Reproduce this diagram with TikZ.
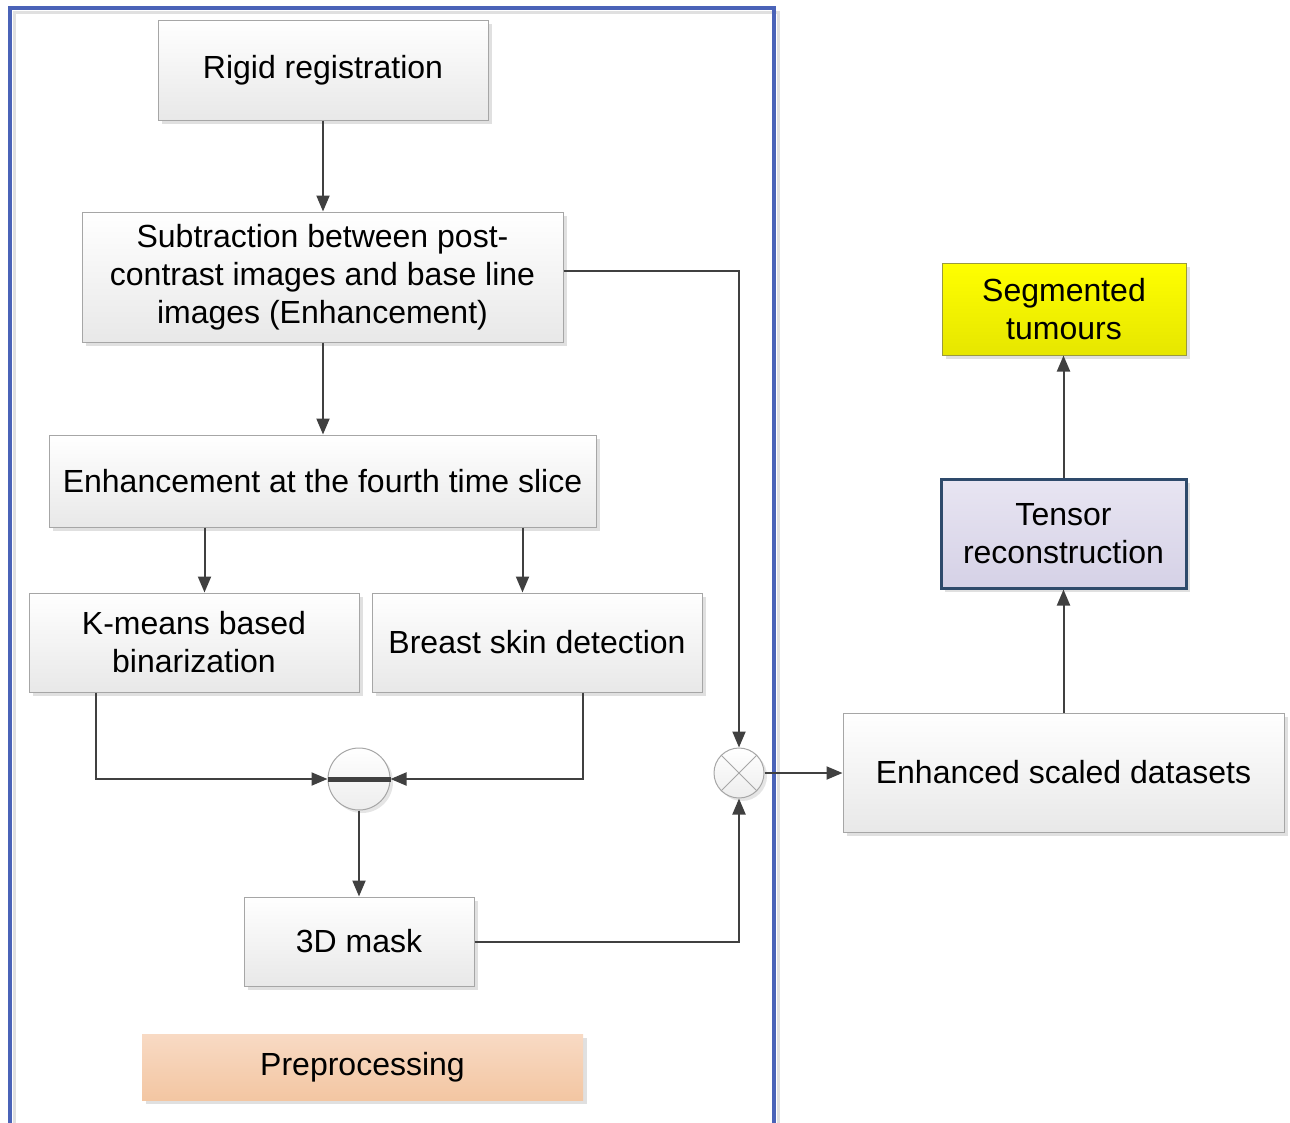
\documentclass[tikz,border=0pt]{standalone}
\usepackage{fontspec}
\setmainfont{Liberation Sans}
\usetikzlibrary{arrows.meta,shadows,calc}
\definecolor{boxgray}{HTML}{A6A6A6}
\definecolor{linec}{HTML}{404040}
\definecolor{frameblue}{HTML}{4A63B8}
\definecolor{tenstop}{HTML}{E8E5F2}
\definecolor{tensbot}{HTML}{D5D1E6}
\definecolor{tensdraw}{HTML}{2E4A6B}
\definecolor{yeltop}{HTML}{FFFF00}
\definecolor{yelbot}{HTML}{E6E600}
\definecolor{yeldraw}{HTML}{9A9A40}
\definecolor{peachtop}{HTML}{F8DAC4}
\definecolor{peachbot}{HTML}{F3C6A2}
\tikzset{
  box/.style={draw=boxgray, line width=1pt, top color=white, bottom color=black!9,
    drop shadow={shadow xshift=4pt,shadow yshift=-4pt,fill=black!12,opacity=1},
    inner sep=0pt, align=center, font=\fontsize{32}{38}\selectfont},
  conn/.style={draw=linec, line width=2pt, -{Triangle[length=16pt,width=13pt]}},
  plain/.style={draw=linec, line width=2pt},
  junc/.style={circle, draw=boxgray, line width=1pt, top color=white, bottom color=black!7,
    drop shadow={shadow xshift=3pt,shadow yshift=-3pt,fill=black!10,opacity=1}, inner sep=0pt}
}
\begin{document}
\begin{tikzpicture}[x=1pt,y=-1pt]
\useasboundingbox (0,0) rectangle (1290,1122);
% frame
\draw[black!12, line width=3pt] (14,1130) -- (14,12) -- (778,12) -- (778,1130);
\draw[frameblue, line width=3.5pt] (10,1130) -- (10,8) -- (774,8) -- (774,1130);
% nodes
\node[box, minimum width=330pt, minimum height=100pt] (rigid) at (323,70) {Rigid registration};
\node[box, minimum width=481pt, minimum height=130pt] (sub) at (322.5,277)
  {Subtraction between post-\\contrast images and base line\\images (Enhancement)};
\node[box, minimum width=547pt, minimum height=92pt] (enh) at (322.5,481) {Enhancement at the fourth time slice};
\node[box, minimum width=330pt, minimum height=99pt] (kmeans) at (194,642.5) {K-means based\\binarization};
\node[box, minimum width=330pt, minimum height=99pt] (breast) at (537,642.5) {Breast skin detection};
\node[junc, minimum size=62pt] (minus) at (359,779) {};
\node[box, minimum width=230pt, minimum height=89pt] (mask) at (359,941.5) {3D mask};
\node[box, draw=none, top color=peachtop, bottom color=peachbot, minimum width=441pt, minimum height=66pt] (prep) at (362.5,1067) {Preprocessing};
\node[junc, minimum size=50pt] (otimes) at (739,773) {};
\node[box, minimum width=441pt, minimum height=119pt] (esd) at (1063.5,772.5) {Enhanced scaled datasets};
\node[box, draw=tensdraw, line width=3pt, top color=tenstop, bottom color=tensbot, minimum width=245pt, minimum height=109pt] (tensor) at (1063.5,533.5) {Tensor\\reconstruction};
\node[box, draw=yeldraw, top color=yeltop, bottom color=yelbot, minimum width=244pt, minimum height=92pt] (seg) at (1064,309) {Segmented\\tumours};
% junction symbols
\draw[linec, line width=5pt] (minus.west) -- (minus.east);
\draw[boxgray, line width=1pt] (otimes.north west) -- (otimes.south east);
\draw[boxgray, line width=1pt] (otimes.north east) -- (otimes.south west);
% connectors
\draw[conn] (rigid.south) -- (sub.north -| rigid.south);
\draw[conn] (sub.south -| rigid.south) -- (enh.north -| rigid.south);
\coordinate (e1) at ([xshift=156pt]enh.south west);
\coordinate (e2) at ([xshift=474pt]enh.south west);
\draw[conn] (e1) -- (e1 |- kmeans.north);
\draw[conn] (e2) -- (e2 |- breast.north);
\coordinate (k1) at ([xshift=67pt]kmeans.south west);
\coordinate (b1) at ([xshift=211pt]breast.south west);
\draw[conn] (k1) |- (minus.west);
\draw[conn] (b1) |- (minus.east);
\draw[conn] (minus.south) -- (mask.north);
\draw[conn] ([yshift=6pt]sub.east) -| (otimes.north);
\draw[conn] (mask.east) -| (otimes.south);
\draw[conn] (otimes.east) -- (esd.west |- otimes.east);
\draw[conn] (esd.north -| tensor.south) -- (tensor.south);
\draw[conn] (tensor.north) -- (seg.south -| tensor.north);
\end{tikzpicture}
\end{document}
